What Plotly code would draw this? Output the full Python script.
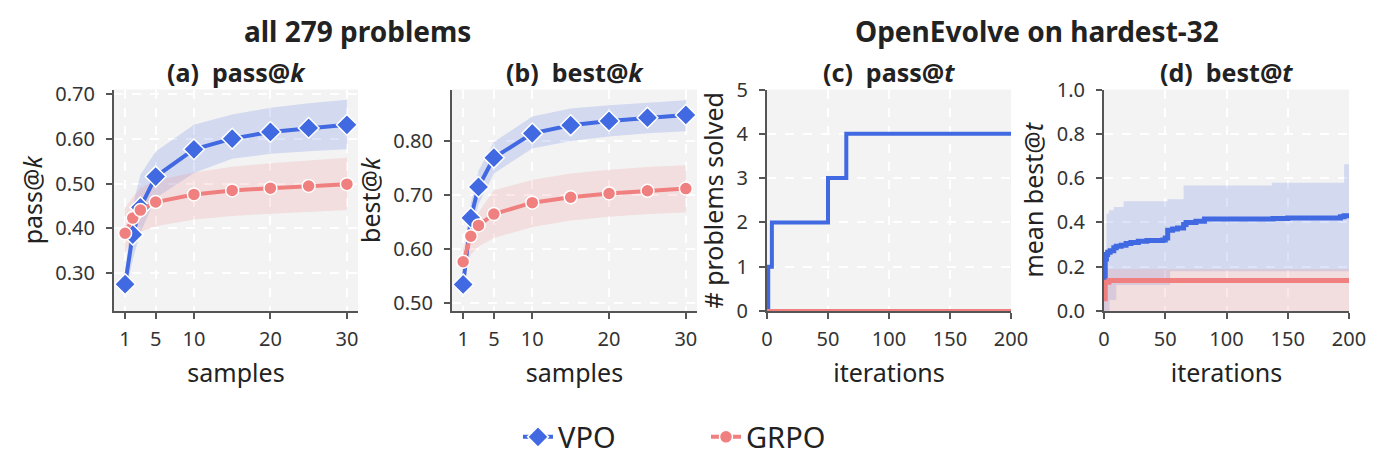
import plotly.graph_objects as go

# ---------------- data ----------------
k_samples = [1, 2, 3, 5, 10, 15, 20, 25, 30]

vpo_pass = [0.275, 0.386, 0.447, 0.516, 0.577, 0.601, 0.616, 0.625, 0.632]
vpo_pass_hi = [0.300, 0.450, 0.520, 0.572, 0.632, 0.655, 0.670, 0.680, 0.688]
vpo_pass_lo = [0.250, 0.330, 0.390, 0.468, 0.524, 0.556, 0.567, 0.573, 0.577]
grpo_pass = [0.389, 0.423, 0.441, 0.459, 0.476, 0.485, 0.490, 0.495, 0.499]
grpo_pass_hi = [0.445, 0.470, 0.490, 0.507, 0.525, 0.538, 0.546, 0.552, 0.558]
grpo_pass_lo = [0.345, 0.378, 0.392, 0.405, 0.420, 0.428, 0.433, 0.437, 0.441]

vpo_best = [0.535, 0.658, 0.715, 0.769, 0.814, 0.829, 0.837, 0.843, 0.848]
vpo_best_hi = [0.560, 0.685, 0.745, 0.798, 0.845, 0.860, 0.866, 0.871, 0.875]
vpo_best_lo = [0.508, 0.628, 0.683, 0.740, 0.786, 0.800, 0.808, 0.814, 0.818]
grpo_best = [0.577, 0.624, 0.644, 0.665, 0.686, 0.696, 0.703, 0.708, 0.712]
grpo_best_hi = [0.600, 0.645, 0.668, 0.709, 0.728, 0.740, 0.747, 0.752, 0.755]
grpo_best_lo = [0.555, 0.590, 0.605, 0.621, 0.641, 0.653, 0.660, 0.665, 0.668]

# (c) pass@t : number of problems solved vs iteration (step)
t_vpo_solved = [0, 1, 4, 50, 65, 200]
vpo_solved = [0, 1, 2, 3, 4, 4]
t_grpo_solved = [0, 200]
grpo_solved = [0, 0]

# (d) best@t mean and band (step)
t_vpo_best = [0, 1, 2, 3, 5, 8, 10, 14, 18, 22, 28, 35, 48, 50, 52, 56, 60, 65, 67, 75, 82,
              100, 138, 150, 193, 196, 200]
vpo_best_t = [0.14, 0.235, 0.255, 0.265, 0.272, 0.285, 0.292, 0.297, 0.305, 0.309, 0.315, 0.318,
              0.32, 0.33, 0.365, 0.37, 0.375, 0.39, 0.40, 0.405, 0.415, 0.415, 0.418, 0.42,
              0.425, 0.43, 0.44]
t_vpo_band_hi = [0, 2, 4, 8, 16, 52, 65, 137, 196, 200]
vpo_band_hi = [0.20, 0.44, 0.455, 0.47, 0.495, 0.505, 0.567, 0.579, 0.662, 0.662]
t_vpo_band_lo = [0, 4.5, 10, 54, 200]
vpo_band_lo = [0.0, 0.05, 0.117, 0.18, 0.18]

t_grpo_best = [0, 1, 4, 200]
grpo_best_t = [0.055, 0.13, 0.138, 0.138]
t_grpo_band = [0, 200]
grpo_band_hi = [0.19, 0.19]
grpo_band_lo = [0.0, 0.0]

# ---------------- style ----------------
W, H = 1387, 467
FONT = "Noto Sans, Open Sans, sans-serif"
BLUE = "#4169E1"
PINK = "#F08080"
BLUE_BAND = "rgba(65,105,225,0.18)"
PINK_BAND = "rgba(240,128,128,0.18)"
AXC = "#555555"
TXT = "#333333"
DARK = "#222222"
NB = "\u00a0"

panels_px = [(114, 358), (452, 697), (767, 1011), (1104, 1349)]
y_dom = [1 - 311 / H, 1 - 89.5 / H]

fig = go.Figure()


def add_band(xs, lo, hi, color, ax, shape="linear", xs_hi=None):
    fig.add_trace(go.Scatter(x=xs, y=lo, mode="lines", line=dict(width=0, shape=shape),
                             hoverinfo="skip", showlegend=False,
                             xaxis="x" + ax, yaxis="y" + ax))
    fig.add_trace(go.Scatter(x=xs_hi if xs_hi is not None else xs, y=hi, mode="lines",
                             line=dict(width=0, shape=shape), fill="tonexty",
                             fillcolor=color, hoverinfo="skip", showlegend=False,
                             xaxis="x" + ax, yaxis="y" + ax))


vpo_marker = dict(symbol="diamond", size=16, color=BLUE, line=dict(color="white", width=1.5))
grpo_marker = dict(symbol="circle", size=13, color=PINK, line=dict(color="white", width=1.5))

# panel a
add_band(k_samples, vpo_pass_lo, vpo_pass_hi, BLUE_BAND, "")
add_band(k_samples, grpo_pass_lo, grpo_pass_hi, PINK_BAND, "")
fig.add_trace(go.Scatter(x=k_samples, y=vpo_pass, mode="lines+markers", name="VPO",
                         line=dict(color=BLUE, width=4), marker=vpo_marker,
                         xaxis="x", yaxis="y"))
fig.add_trace(go.Scatter(x=k_samples, y=grpo_pass, mode="lines+markers", name="GRPO",
                         line=dict(color=PINK, width=4), marker=grpo_marker,
                         xaxis="x", yaxis="y"))

# panel b
add_band(k_samples, vpo_best_lo, vpo_best_hi, BLUE_BAND, "2")
add_band(k_samples, grpo_best_lo, grpo_best_hi, PINK_BAND, "2")
fig.add_trace(go.Scatter(x=k_samples, y=vpo_best, mode="lines+markers", showlegend=False,
                         line=dict(color=BLUE, width=4), marker=vpo_marker,
                         xaxis="x2", yaxis="y2"))
fig.add_trace(go.Scatter(x=k_samples, y=grpo_best, mode="lines+markers", showlegend=False,
                         line=dict(color=PINK, width=4), marker=grpo_marker,
                         xaxis="x2", yaxis="y2"))

# panel c
fig.add_trace(go.Scatter(x=t_vpo_solved, y=vpo_solved, mode="lines", showlegend=False,
                         line=dict(color=BLUE, width=4, shape="hv"),
                         xaxis="x3", yaxis="y3"))
fig.add_trace(go.Scatter(x=t_grpo_solved, y=grpo_solved, mode="lines", showlegend=False,
                         line=dict(color=PINK, width=4, shape="hv"),
                         xaxis="x3", yaxis="y3"))

# panel d
add_band(t_vpo_band_lo, vpo_band_lo, vpo_band_hi, BLUE_BAND, "4", shape="hv",
         xs_hi=t_vpo_band_hi)
add_band(t_grpo_band, grpo_band_lo, grpo_band_hi, PINK_BAND, "4", shape="hv")
fig.add_trace(go.Scatter(x=t_vpo_best, y=vpo_best_t, mode="lines", showlegend=False,
                         line=dict(color=BLUE, width=5, shape="hv"),
                         xaxis="x4", yaxis="y4"))
fig.add_trace(go.Scatter(x=t_grpo_best, y=grpo_best_t, mode="lines", showlegend=False,
                         line=dict(color=PINK, width=5, shape="hv"),
                         xaxis="x4", yaxis="y4"))

common_ax = dict(showline=True, linecolor=AXC, linewidth=2, ticks="outside", ticklen=6,
                 tickwidth=1.5, tickcolor=AXC, showgrid=True, gridcolor="white",
                 gridwidth=1.5, griddash="dash", zeroline=False, automargin=False,
                 tickfont=dict(family=FONT, size=20, color=TXT))
title_font = dict(family=FONT, size=25, color=DARK)

layout_axes = {}
specs = [
    dict(xr=[-0.45, 31.45], xt=[1, 5, 10, 20, 30], xtitle="samples",
         yr=[0.215, 0.711], yt=[0.3, 0.4, 0.5, 0.6, 0.7], yfmt=".2f", ytitle="pass@<i>k</i>"),
    dict(xr=[-0.45, 31.45], xt=[1, 5, 10, 20, 30], xtitle="samples",
         yr=[0.486, 0.895], yt=[0.5, 0.6, 0.7, 0.8], yfmt=".2f", ytitle="best@<i>k</i>"),
    dict(xr=[0, 200], xt=[0, 50, 100, 150, 200], xtitle="iterations",
         yr=[0, 5], yt=[0, 1, 2, 3, 4, 5], yfmt="d", ytitle="# problems solved"),
    dict(xr=[0, 200], xt=[0, 50, 100, 150, 200], xtitle="iterations",
         yr=[0, 1], yt=[0, 0.2, 0.4, 0.6, 0.8, 1.0], yfmt=".1f", ytitle="mean best@<i>t</i>"),
]
for i, (sp, (l, r)) in enumerate(zip(specs, panels_px)):
    sfx = "" if i == 0 else str(i + 1)
    layout_axes["xaxis" + sfx] = dict(common_ax, domain=[l / W, r / W], range=sp["xr"],
                                      tickvals=sp["xt"], anchor="y" + sfx,
                                      ticklabelstandoff=3,
                                      title=dict(text=sp["xtitle"], font=title_font, standoff=13))
    layout_axes["yaxis" + sfx] = dict(common_ax, domain=y_dom, range=sp["yr"],
                                      tickvals=sp["yt"], tickformat=sp["yfmt"],
                                      anchor="x" + sfx, ticklabelstandoff=7,
                                      title=dict(text=sp["ytitle"], font=title_font, standoff=6))

fig.update_layout(**layout_axes)

sub_titles = ["(a)" + NB + NB + "pass@<i>k</i>", "(b)" + NB + NB + "best@<i>k</i>",
              "(c)" + NB + NB + "pass@<i>t</i>", "(d)" + NB + NB + "best@<i>t</i>"]
annotations = []
for txt, (l, r) in zip(sub_titles, panels_px):
    annotations.append(dict(text="<b>" + txt + "</b>", x=(l + r) / 2 / W, y=1 - 72 / H,
                            xref="paper", yref="paper", xanchor="center", yanchor="middle",
                            showarrow=False, font=dict(family=FONT, size=25, color=DARK)))
for txt, cx in [("all 279 problems", 357), ("OpenEvolve on hardest-32", 1037)]:
    annotations.append(dict(text="<b>" + txt + "</b>", x=cx / W, y=1 - 31 / H,
                            xref="paper", yref="paper", xanchor="center", yanchor="middle",
                            showarrow=False, font=dict(family=FONT, size=28, color=DARK)))

fig.update_layout(
    width=W, height=H,
    margin=dict(l=0, r=0, t=0, b=0),
    paper_bgcolor="white",
    plot_bgcolor="#F3F3F3",
    annotations=annotations,
    showlegend=True,
    legend=dict(orientation="h", x=0.509, xanchor="center", y=1 - 437 / H, yanchor="middle",
                traceorder="normal",
                font=dict(family=FONT, size=29, color=DARK), entrywidth=143,
                bgcolor="rgba(0,0,0,0)"),
    font=dict(family=FONT, color=TXT),
)

fig.write_html("out.html")
